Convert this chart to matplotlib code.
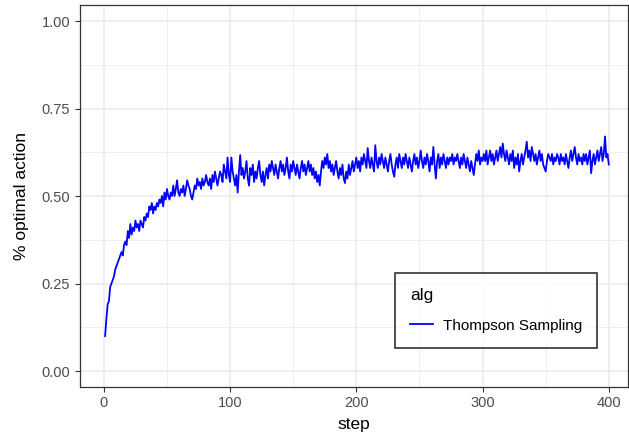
import numpy as np
import matplotlib
matplotlib.use("Agg")
import matplotlib.pyplot as plt

plt.rcParams['font.family'] = ['Liberation Sans', 'DejaVu Sans']

# % optimal action per step
pct_optimal = [
    0.10, 0.15, 0.19, 0.20, 0.24, 0.25, 0.26, 0.27, 0.29, 0.30, 0.31, 0.32, 0.33, 0.34, 0.33, 0.36, 0.37, 0.36, 0.40, 0.38,
    0.42, 0.39, 0.41, 0.40, 0.43, 0.41, 0.42, 0.40, 0.43, 0.42, 0.41, 0.44, 0.43, 0.45, 0.44, 0.47, 0.46, 0.48, 0.45, 0.47,
    0.46, 0.48, 0.47, 0.49, 0.48, 0.50, 0.47, 0.51, 0.49, 0.52, 0.50, 0.49, 0.51, 0.50, 0.53, 0.50, 0.52, 0.545, 0.51, 0.50,
    0.52, 0.51, 0.53, 0.50, 0.52, 0.545, 0.53, 0.52, 0.50, 0.49, 0.51, 0.53, 0.52, 0.55, 0.53, 0.54, 0.52, 0.55, 0.53, 0.54,
    0.56, 0.54, 0.53, 0.55, 0.52, 0.56, 0.54, 0.57, 0.55, 0.53, 0.55, 0.57, 0.56, 0.54, 0.59, 0.57, 0.55, 0.61, 0.56, 0.54,
    0.61, 0.57, 0.55, 0.53, 0.56, 0.51, 0.57, 0.617, 0.56, 0.58, 0.55, 0.57, 0.60, 0.55, 0.53, 0.58, 0.56, 0.59, 0.54, 0.57,
    0.55, 0.58, 0.60, 0.56, 0.54, 0.57, 0.53, 0.56, 0.58, 0.55, 0.59, 0.57, 0.60, 0.58, 0.56, 0.59, 0.57, 0.55, 0.58, 0.60,
    0.57, 0.59, 0.56, 0.58, 0.61, 0.57, 0.55, 0.59, 0.57, 0.60, 0.58, 0.56, 0.59, 0.57, 0.55, 0.58, 0.60, 0.57, 0.59, 0.56,
    0.58, 0.60, 0.57, 0.59, 0.56, 0.58, 0.55, 0.57, 0.54, 0.56, 0.53, 0.57, 0.60, 0.58, 0.61, 0.59, 0.62, 0.58, 0.60, 0.57,
    0.59, 0.56, 0.58, 0.60, 0.57, 0.55, 0.58, 0.56, 0.59, 0.55, 0.537, 0.57, 0.55, 0.59, 0.56, 0.58, 0.60, 0.57, 0.59, 0.61,
    0.58, 0.60, 0.57, 0.61, 0.59, 0.62, 0.60, 0.58, 0.637, 0.60, 0.58, 0.61, 0.59, 0.57, 0.645, 0.60, 0.58, 0.61, 0.59, 0.62,
    0.60, 0.58, 0.61, 0.59, 0.57, 0.60, 0.62, 0.59, 0.57, 0.555, 0.59, 0.61, 0.58, 0.62, 0.60, 0.58, 0.61, 0.59, 0.62, 0.60,
    0.58, 0.61, 0.59, 0.57, 0.60, 0.62, 0.59, 0.61, 0.58, 0.60, 0.63, 0.60, 0.58, 0.61, 0.59, 0.62, 0.60, 0.57, 0.61, 0.59,
    0.64, 0.59, 0.55, 0.60, 0.62, 0.58, 0.61, 0.59, 0.62, 0.60, 0.58, 0.61, 0.59, 0.61, 0.60, 0.62, 0.59, 0.61, 0.60, 0.62,
    0.60, 0.58, 0.61, 0.59, 0.62, 0.60, 0.58, 0.61, 0.59, 0.57, 0.60, 0.58, 0.56, 0.59, 0.62, 0.60, 0.63, 0.59, 0.61, 0.60,
    0.62, 0.60, 0.63, 0.59, 0.61, 0.63, 0.60, 0.62, 0.59, 0.61, 0.63, 0.60, 0.62, 0.64, 0.61, 0.65, 0.62, 0.60, 0.63, 0.61,
    0.59, 0.62, 0.60, 0.63, 0.58, 0.61, 0.59, 0.62, 0.57, 0.60, 0.62, 0.59, 0.61, 0.63, 0.655, 0.61, 0.63, 0.60, 0.64, 0.62,
    0.60, 0.62, 0.59, 0.61, 0.63, 0.60, 0.62, 0.59, 0.58, 0.57, 0.60, 0.62, 0.61, 0.60, 0.62, 0.59, 0.61, 0.60, 0.62, 0.61,
    0.59, 0.62, 0.60, 0.61, 0.59, 0.62, 0.60, 0.58, 0.61, 0.63, 0.60, 0.62, 0.64, 0.61, 0.59, 0.62, 0.60, 0.61, 0.59, 0.62,
    0.60, 0.62, 0.59, 0.61, 0.63, 0.565, 0.60, 0.62, 0.59, 0.61, 0.63, 0.60, 0.62, 0.64, 0.60, 0.62, 0.67, 0.61, 0.62, 0.59,
]
steps = np.arange(1, len(pct_optimal) + 1)
alg_name = 'Thompson Sampling'

x_ticks = [0, 100, 200, 300, 400]
y_ticks = [0.00, 0.25, 0.50, 0.75, 1.00]

fig = plt.figure(figsize=(6.29, 4.38), dpi=100)
ax = fig.add_axes([0.127, 0.117, 0.871, 0.871])

ax.plot(steps, pct_optimal, color='blue', lw=1.3, label=alg_name)

ax.set_xlim(-19, 415)
ax.set_ylim(-0.045, 1.045)
ax.set_xticks(x_ticks)
ax.set_xticklabels([str(t) for t in x_ticks])
ax.set_yticks(y_ticks)
ax.set_yticklabels(['%.2f' % t for t in y_ticks])
ax.set_xticks([50, 150, 250, 350], minor=True)
ax.set_yticks([0.125, 0.375, 0.625, 0.875], minor=True)

ax.grid(True, which='major', color='#EBEBEB', lw=1.1)
ax.grid(True, which='minor', color='#EBEBEB', lw=0.55)
ax.set_axisbelow(True)
ax.tick_params(which='major', direction='out', length=3.5, width=0.8,
               color='#333333', labelcolor='#4D4D4D', labelsize=10.5)
ax.tick_params(which='minor', length=0)
for s in ax.spines.values():
    s.set_color('#333333')
    s.set_linewidth(0.9)

ax.set_xlabel('step', fontsize=12.5, labelpad=5)
ax.set_ylabel('% optimal action', fontsize=12.5, labelpad=9)

leg = ax.legend(title='alg', loc='lower right', bbox_to_anchor=(0.958, 0.082),
                fontsize=11, title_fontsize=12.5, frameon=True, fancybox=False,
                handlelength=1.5, handletextpad=0.6, borderpad=1.0,
                labelspacing=1.0, alignment='left')
leg.get_frame().set_edgecolor('black')
leg.get_frame().set_linewidth(1.2)

fig.savefig('out.png', dpi=100)
